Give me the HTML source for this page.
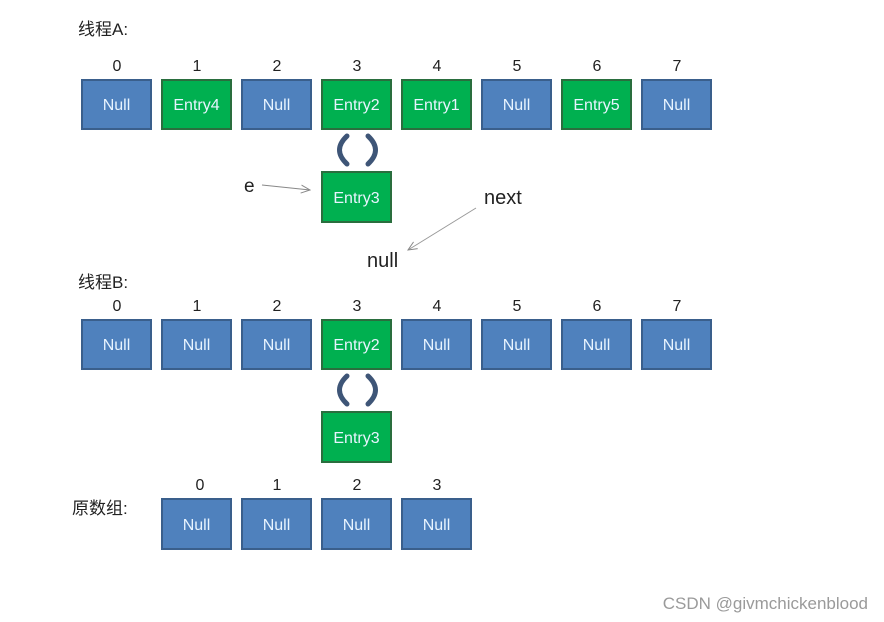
<!DOCTYPE html>
<html><head><meta charset="utf-8"><style>
body{margin:0;background:#fff;}
svg{display:block;}
text{font-family:"Liberation Sans","Noto Sans CJK SC",sans-serif;}
.b{fill:#4f81bd;stroke:#3a5f8c;stroke-width:2}
.g{fill:#00b050;stroke:#2a6e3e;stroke-width:2}
.t{fill:#e8f4ff;font-size:16px;text-anchor:middle}
.n{fill:#222;font-size:16px;text-anchor:middle}
.c{fill:#222;font-size:17px}
.arc{fill:none;stroke:#3e5577;stroke-width:5;stroke-linecap:round}
</style></head><body>
<svg width="884" height="622" viewBox="0 0 884 622">
<defs>
<marker id="ah" markerWidth="10" markerHeight="10" refX="9" refY="5" orient="auto" markerUnits="userSpaceOnUse"><path d="M0,1 L9,5 L0,9" fill="none" stroke="#888" stroke-width="1"/></marker>
</defs>
<text class="c" x="78" y="35">线程A:</text>
<g id="rowA">
<text class="n" x="117" y="71">0</text><rect class="b" x="82" y="80" width="69" height="49"/><text class="t" x="116.5" y="110">Null</text>
<text class="n" x="197" y="71">1</text><rect class="g" x="162" y="80" width="69" height="49"/><text class="t" x="196.5" y="110">Entry4</text>
<text class="n" x="277" y="71">2</text><rect class="b" x="242" y="80" width="69" height="49"/><text class="t" x="276.5" y="110">Null</text>
<text class="n" x="357" y="71">3</text><rect class="g" x="322" y="80" width="69" height="49"/><text class="t" x="356.5" y="110">Entry2</text>
<text class="n" x="437" y="71">4</text><rect class="g" x="402" y="80" width="69" height="49"/><text class="t" x="436.5" y="110">Entry1</text>
<text class="n" x="517" y="71">5</text><rect class="b" x="482" y="80" width="69" height="49"/><text class="t" x="516.5" y="110">Null</text>
<text class="n" x="597" y="71">6</text><rect class="g" x="562" y="80" width="69" height="49"/><text class="t" x="596.5" y="110">Entry5</text>
<text class="n" x="677" y="71">7</text><rect class="b" x="642" y="80" width="69" height="49"/><text class="t" x="676.5" y="110">Null</text>
</g>
<path class="arc" d="M347,136 Q332,150 347,164"/>
<path class="arc" d="M368,136 Q383,150 368,164"/>
<rect class="g" x="322" y="172" width="69" height="50"/><text class="t" x="356.5" y="203">Entry3</text>
<text class="c" x="244" y="192" style="font-size:19px">e</text>
<line x1="262" y1="185" x2="310" y2="190" stroke="#888" stroke-width="1" marker-end="url(#ah)"/>
<text class="c" x="484" y="204" style="font-size:20px">next</text>
<line x1="476" y1="208" x2="408" y2="250" stroke="#999" stroke-width="1" marker-end="url(#ah)"/>
<text class="c" x="367" y="267" style="font-size:20px">null</text>

<text class="c" x="78" y="288">线程B:</text>
<text class="n" x="117" y="311">0</text><rect class="b" x="82" y="320" width="69" height="49"/><text class="t" x="116.5" y="350">Null</text>
<text class="n" x="197" y="311">1</text><rect class="b" x="162" y="320" width="69" height="49"/><text class="t" x="196.5" y="350">Null</text>
<text class="n" x="277" y="311">2</text><rect class="b" x="242" y="320" width="69" height="49"/><text class="t" x="276.5" y="350">Null</text>
<text class="n" x="357" y="311">3</text><rect class="g" x="322" y="320" width="69" height="49"/><text class="t" x="356.5" y="350">Entry2</text>
<text class="n" x="437" y="311">4</text><rect class="b" x="402" y="320" width="69" height="49"/><text class="t" x="436.5" y="350">Null</text>
<text class="n" x="517" y="311">5</text><rect class="b" x="482" y="320" width="69" height="49"/><text class="t" x="516.5" y="350">Null</text>
<text class="n" x="597" y="311">6</text><rect class="b" x="562" y="320" width="69" height="49"/><text class="t" x="596.5" y="350">Null</text>
<text class="n" x="677" y="311">7</text><rect class="b" x="642" y="320" width="69" height="49"/><text class="t" x="676.5" y="350">Null</text>
<path class="arc" d="M347,376 Q332,390 347,404"/>
<path class="arc" d="M368,376 Q383,390 368,404"/>
<rect class="g" x="322" y="412" width="69" height="50"/><text class="t" x="356.5" y="443">Entry3</text>

<text class="c" x="72" y="514">原数组:</text>
<text class="n" x="200" y="490">0</text><rect class="b" x="162" y="499" width="69" height="50"/><text class="t" x="196.5" y="530">Null</text>
<text class="n" x="277" y="490">1</text><rect class="b" x="242" y="499" width="69" height="50"/><text class="t" x="276.5" y="530">Null</text>
<text class="n" x="357" y="490">2</text><rect class="b" x="322" y="499" width="69" height="50"/><text class="t" x="356.5" y="530">Null</text>
<text class="n" x="437" y="490">3</text><rect class="b" x="402" y="499" width="69" height="50"/><text class="t" x="436.5" y="530">Null</text>

<text x="868" y="609" style="font-size:17px;fill:#9a9a9a;text-anchor:end">CSDN @givmchickenblood</text>
</svg>
</body></html>
